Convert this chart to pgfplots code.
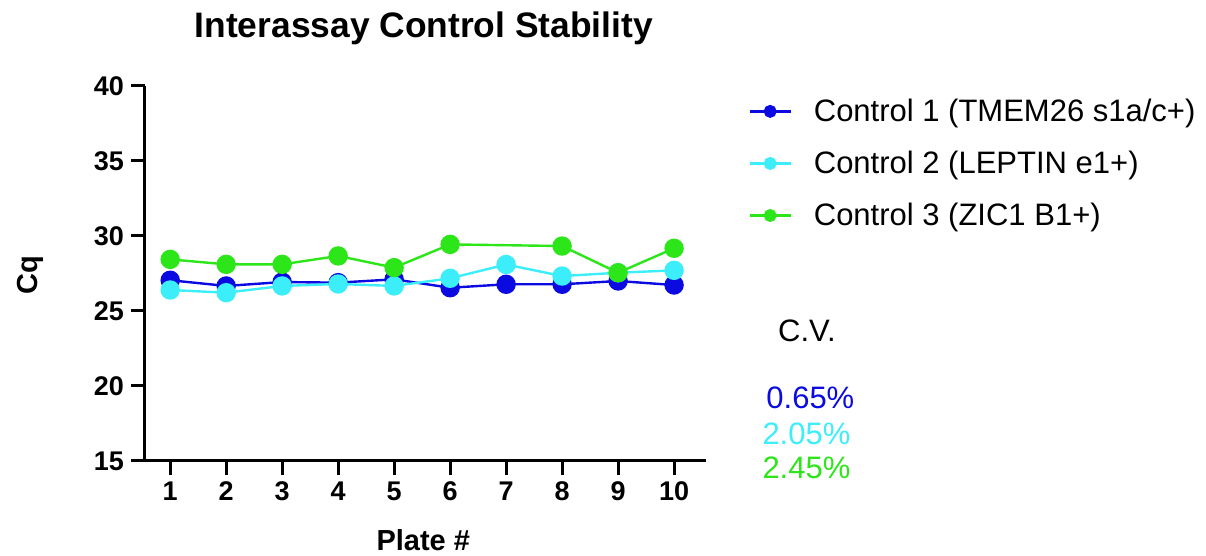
\documentclass[border=0pt]{standalone}
\usepackage{pgfplots}
\pgfplotsset{compat=1.18}
\usepackage{fontspec}
\setmainfont{Liberation Sans}
\definecolor{cblue}{RGB}{10,10,225}
\definecolor{ccyan}{RGB}{60,238,250}
\definecolor{cgreen}{RGB}{45,230,25}
\begin{document}
\begin{tikzpicture}
\useasboundingbox (0,0) rectangle (603pt,278pt);
\begin{axis}[
  at={(72.5pt,47.5pt)}, anchor=south west,
  scale only axis, width=280.5pt, height=187.5pt,
  xmin=0.55, xmax=10.57, ymin=15, ymax=40,
  axis lines=left, axis line style={-, line width=1.5pt},
  xtick={1,...,10}, ytick={15,20,...,40},
  tick align=outside, major tick length=7pt,
  tick style={line width=1.5pt, black},
  /pgf/number format/assume math mode=true,
  ticklabel style={font=\bfseries\fontsize{13.5}{16}\selectfont},
  clip=false,
  legend style={draw=none, fill=none, at={(1.075,0.978)}, anchor=north west,
    font=\fontsize{15.5}{18}\selectfont, row sep=9.3pt, inner sep=0pt,
    /tikz/every odd column/.append style={column sep=9pt}},
  legend cell align=left,
  legend image code/.code={\draw[mark repeat=2,mark phase=2] plot coordinates {(0pt,0pt) (10.25pt,0pt) (20.5pt,0pt)};},
  legend image post style={mark options={scale=0.62}},
  every axis plot/.append style={line width=1.2pt, mark=*, mark size=4.25pt},
]
\addplot[color=cblue, mark options={fill=cblue, draw=cblue}] coordinates {
(1,27.05) (2,26.67) (3,26.93) (4,26.89) (5,27.11) (6,26.55) (7,26.78) (8,26.78) (9,27.0) (10,26.73)};
\addlegendentry{Control 1 (TMEM26 s1a/c+)}
\addplot[color=ccyan, mark options={fill=ccyan, draw=ccyan}] coordinates {
(1,26.4) (2,26.22) (3,26.67) (4,26.8) (5,26.67) (6,27.18) (7,28.1) (8,27.33) (9,27.55) (10,27.71)};
\addlegendentry{Control 2 (LEPTIN e1+)}
\addplot[color=cgreen, mark options={fill=cgreen, draw=cgreen}] coordinates {
(1,28.44) (2,28.11) (3,28.11) (4,28.67) (5,27.89) (6,29.44) (8,29.33) (9,27.55) (10,29.18)};
\addlegendentry{Control 3 (ZIC1 B1+)}
\node[font=\bfseries\fontsize{17.7}{20}\selectfont] at (rel axis cs:0.497,1.155) {Interassay Control Stability};
\node[font=\bfseries\fontsize{14.5}{17}\selectfont, rotate=90] at (rel axis cs:-0.205,0.495) {Cq};
\node[font=\bfseries\fontsize{14.5}{17}\selectfont] at (rel axis cs:0.496,-0.21) {Plate \#};
\node[anchor=west, inner sep=0pt, font=\fontsize{15.5}{18}\selectfont] at (rel axis cs:1.128,0.348) {C.V.};
\node[anchor=west, inner sep=0pt, text=cblue, font=\fontsize{15.5}{18}\selectfont] at (rel axis cs:1.107,0.168) {0.65\%};
\node[anchor=west, inner sep=0pt, text=ccyan, font=\fontsize{15.5}{18}\selectfont] at (rel axis cs:1.100,0.072) {2.05\%};
\node[anchor=west, inner sep=0pt, text=cgreen, font=\fontsize{15.5}{18}\selectfont] at (rel axis cs:1.100,-0.019) {2.45\%};
\end{axis}
\end{tikzpicture}
\end{document}
